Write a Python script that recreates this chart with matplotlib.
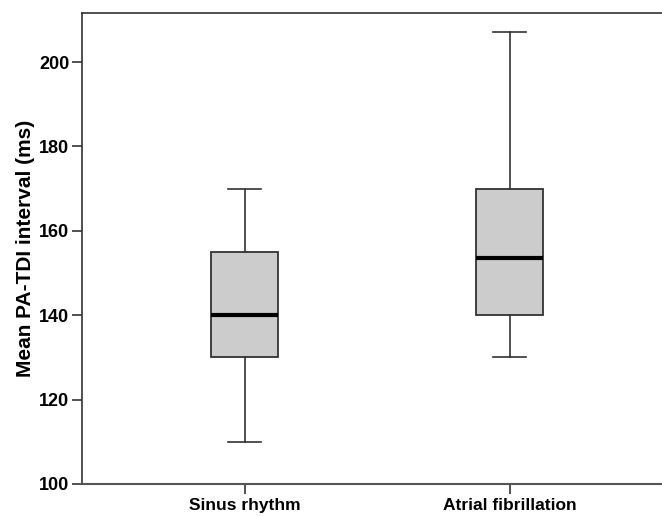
import matplotlib
matplotlib.use("Agg")
import matplotlib.pyplot as plt

categories = ["Sinus rhythm", "Atrial fibrillation"]
whislo = [110, 130]
q1 = [130, 140]
med = [140, 153.5]
q3 = [155, 170]
whishi = [170, 207]
yticks = [100, 120, 140, 160, 180, 200]

plt.rcParams['font.family'] = ['Liberation Sans', 'DejaVu Sans']

fig = plt.figure(figsize=(6.62, 5.16), dpi=100)
ax = fig.add_axes([82/662, 1-484/516, (672-82)/662, (484-13)/516])

stats = []
for i, c in enumerate(categories):
    stats.append(dict(label=c, whislo=whislo[i], q1=q1[i], med=med[i],
                      q3=q3[i], whishi=whishi[i], fliers=[]))

ax.bxp(stats, positions=[1, 2], widths=0.25, patch_artist=True, showfliers=False,
       boxprops=dict(facecolor="#cccccc", edgecolor="#333333", linewidth=1.3),
       medianprops=dict(color="black", linewidth=3),
       whiskerprops=dict(color="#333333", linewidth=1.2),
       capprops=dict(color="#333333", linewidth=1.2),
       capwidths=0.125)

ax.set_xlim(1 - 162.5/265, 2 + 162.5/265)
ax.set_ylim(100, 100 + 471/4.22)
ax.set_yticks(yticks)
ax.set_yticklabels([str(t) for t in yticks], fontsize=13, fontweight='bold')
ax.set_xticks([1, 2])
ax.set_xticklabels(categories, fontsize=12.5, fontweight='bold')
ax.tick_params(axis='both', direction='out', length=7, width=1.2, color='#333333')
ax.tick_params(axis='y', pad=2)
ax.tick_params(axis='x', pad=3)
ax.set_ylabel("Mean PA-TDI interval (ms)", fontsize=15, fontweight='bold', labelpad=3)
for s in ['left', 'top', 'right']:
    ax.spines[s].set_color('#333333')
    ax.spines[s].set_linewidth(1.2)
ax.spines['bottom'].set_color('#555555')
ax.spines['bottom'].set_linewidth(1.5)

fig.savefig("out.png", dpi=100)
